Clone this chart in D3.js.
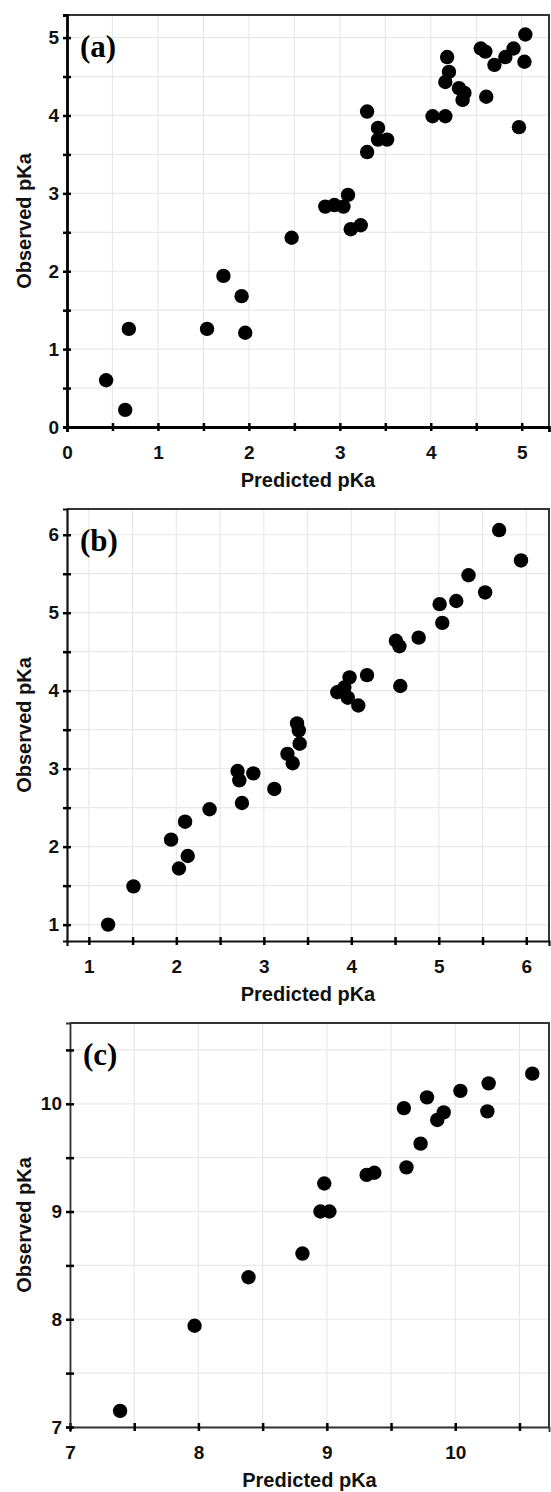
<!DOCTYPE html>
<html>
<head>
<meta charset="utf-8">
<script src="https://cdn.jsdelivr.net/npm/d3@7"></script>
<style>
  body { margin: 0; background: #fff; }
  svg { display: block; }
  .tick text { font-family: "Liberation Sans", Arial, sans-serif; font-weight: bold; }
</style>
</head>
<body>
<svg id="chart" width="551" height="1492"></svg>
<script>
// panel (a)
const predA = [5.04, 5.03, 4.55, 4.60, 4.70, 4.82, 4.91, 4.61, 4.97, 4.18, 4.20, 4.16, 4.31, 4.37, 4.35,
  4.02, 4.16, 3.30, 3.42, 3.52, 3.42, 3.30, 3.09, 2.84, 2.94, 3.04, 3.12, 3.23, 2.47, 1.72, 1.92,
  0.68, 1.54, 1.96, 0.43, 0.64];
const obsA = [5.04, 4.69, 4.86, 4.82, 4.65, 4.75, 4.86, 4.24, 3.85, 4.75, 4.56, 4.43, 4.35, 4.29, 4.20,
  3.99, 3.99, 4.05, 3.84, 3.69, 3.69, 3.53, 2.98, 2.83, 2.85, 2.83, 2.54, 2.59, 2.43, 1.94, 1.68,
  1.26, 1.26, 1.21, 0.60, 0.22];
const ticksA = [0, 1, 2, 3, 4, 5];

// panel (b)
const predB = [5.69, 5.94, 5.34, 5.53, 5.20, 5.01, 5.04, 4.51, 4.55, 4.77, 4.56, 4.18, 3.98, 3.84, 3.92,
  3.96, 4.08, 3.38, 3.40, 3.41, 3.27, 3.33, 2.70, 2.72, 2.88, 3.12, 2.75, 2.38, 2.10, 1.94, 2.13,
  2.03, 1.51, 1.22];
const obsB = [6.06, 5.67, 5.48, 5.26, 5.15, 5.11, 4.87, 4.64, 4.57, 4.68, 4.06, 4.20, 4.17, 3.98, 4.04,
  3.91, 3.81, 3.58, 3.49, 3.32, 3.19, 3.07, 2.97, 2.85, 2.94, 2.74, 2.56, 2.48, 2.32, 2.09, 1.88,
  1.72, 1.49, 1.00];
const ticksB = [1, 2, 3, 4, 5, 6];

// panel (c)
const predC = [10.60, 10.26, 10.25, 10.04, 9.78, 9.60, 9.91, 9.86, 9.73, 9.62, 9.31, 9.37, 8.98, 8.95,
  9.02, 8.81, 8.39, 7.97, 7.39];
const obsC = [10.28, 10.19, 9.93, 10.12, 10.06, 9.96, 9.92, 9.85, 9.63, 9.41, 9.34, 9.36, 9.26, 9.00,
  9.00, 8.61, 8.39, 7.94, 7.15];
const ticksCx = [7, 8, 9, 10];
const ticksCy = [7, 8, 9, 10];

const svg = d3.select("#chart");
svg.append("rect").attr("width", 551).attr("height", 1492).attr("fill", "#fff");

function halfSteps(lo, hi) {
  let out = [];
  for (let v = Math.ceil(lo * 2) / 2; v <= hi + 1e-9; v += 0.5) out.push(v);
  return out;
}

function drawPanel(p) {
  let x = d3.scaleLinear().domain(p.xDomain).range([p.left, p.right]);
  let y = d3.scaleLinear().domain(p.yDomain).range([p.bottom, p.top]);
  let g = svg.append("g");

  let xs = halfSteps(p.xDomain[0], p.xDomain[1]);
  let ys = halfSteps(p.yDomain[0], p.yDomain[1]);

  // light grid every 0.5
  g.selectAll(".vg").data(xs).enter().append("line")
    .attr("x1", d => x(d)).attr("x2", d => x(d))
    .attr("y1", p.top).attr("y2", p.bottom)
    .attr("stroke", "#e8e8e8").attr("stroke-width", 1.2);
  g.selectAll(".hg").data(ys).enter().append("line")
    .attr("y1", d => y(d)).attr("y2", d => y(d))
    .attr("x1", p.left).attr("x2", p.right)
    .attr("stroke", "#e8e8e8").attr("stroke-width", 1.2);

  // frame top/right
  g.append("path")
    .attr("d", `M${p.left},${p.top}H${p.right}V${p.bottom}`)
    .attr("fill", "none").attr("stroke", "#333").attr("stroke-width", 2);

  let fmt = ticks => (d => ticks.includes(d) ? d3.format("d")(d) : "");

  let xAxis = g.append("g")
    .attr("transform", `translate(0,${p.bottom})`)
    .call(d3.axisBottom(x).tickValues(xs).tickSize(5).tickPadding(14).tickFormat(fmt(p.xTicks)));
  let yAxis = g.append("g")
    .attr("transform", `translate(${p.left},0)`)
    .call(d3.axisLeft(y).tickValues(ys).tickSize(4).tickPadding(4).tickFormat(fmt(p.yTicks)));

  // ticks cross the axis line
  xAxis.selectAll(".tick line").attr("y1", -4).attr("y2", 4);
  yAxis.selectAll(".tick line").attr("x1", -4).attr("x2", 4);

  [xAxis, yAxis].forEach(a => {
    a.select(".domain").attr("stroke", p.axisColor).attr("stroke-width", p.axisWidth);
    a.selectAll(".tick line").attr("stroke", "#000").attr("stroke-width", 2.5);
    a.selectAll(".tick text").attr("font-size", 19).attr("fill", "#111");
  });

  // points
  g.selectAll("circle").data(p.xs.map((v, i) => [v, p.ys[i]])).enter().append("circle")
    .attr("cx", d => x(d[0])).attr("cy", d => y(d[1]))
    .attr("r", 7.2).attr("fill", "#000");

  // panel label
  g.append("text")
    .attr("x", p.left + 13).attr("y", p.top + 42)
    .attr("font-family", "'Liberation Serif', 'Times New Roman', serif")
    .attr("font-weight", "bold").attr("font-size", 31)
    .text(p.label);

  // axis titles
  g.append("text")
    .attr("x", (p.left + p.right) / 2).attr("y", p.bottom + 60)
    .attr("text-anchor", "middle")
    .attr("font-family", "'Liberation Sans', Arial, sans-serif")
    .attr("font-weight", "bold").attr("font-size", 20).attr("fill", "#111")
    .text("Predicted pKa");
  g.append("text")
    .attr("transform", `translate(31,${(p.top + p.bottom) / 2}) rotate(-90)`)
    .attr("text-anchor", "middle")
    .attr("font-family", "'Liberation Sans', Arial, sans-serif")
    .attr("font-weight", "bold").attr("font-size", 20).attr("fill", "#111")
    .text("Observed pKa");
}

drawPanel({ label: "(a)", left: 67, right: 549, top: 15, bottom: 427, axisColor: "#000", axisWidth: 2.8,
  xDomain: [0, 5.3], yDomain: [0, 5.29], xTicks: ticksA, yTicks: ticksA, xs: predA, ys: obsA });
drawPanel({ label: "(b)", left: 67, right: 549, top: 509, bottom: 941, axisColor: "#111", axisWidth: 2.2,
  xDomain: [0.75, 6.26], yDomain: [0.79, 6.33], xTicks: ticksB, yTicks: ticksB, xs: predB, ys: obsB });
drawPanel({ label: "(c)", left: 70, right: 549, top: 1023, bottom: 1427, axisColor: "#333", axisWidth: 1.8,
  xDomain: [7, 10.73], yDomain: [7, 10.75], xTicks: ticksCx, yTicks: ticksCy, xs: predC, ys: obsC });
</script>
</body>
</html>
